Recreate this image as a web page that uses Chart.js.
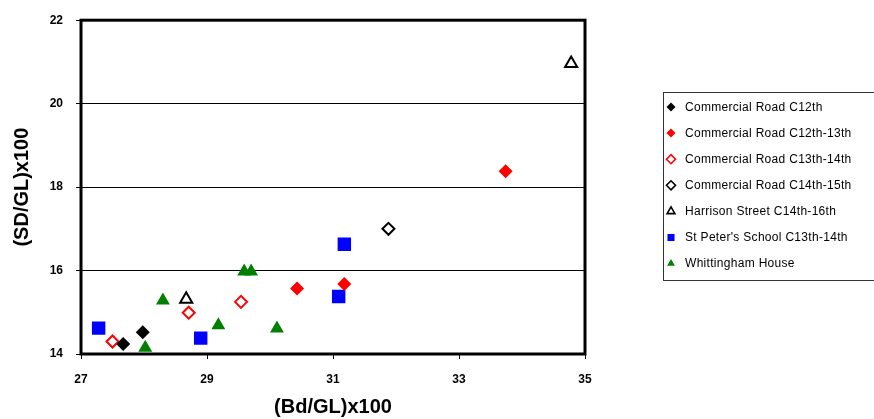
<!DOCTYPE html>
<html>
<head>
<meta charset="utf-8">
<script src="https://cdn.jsdelivr.net/npm/chart.js@4/dist/chart.umd.min.js"></script>
<style>
  html, body { margin: 0; padding: 0; background: #fff; }
</style>
</head>
<body>
<canvas id="scatter" width="874" height="419"></canvas>
<script>
// series labels
const seriesNames = [
    'Commercial Road C12th',
    'Commercial Road C12th-13th',
    'Commercial Road C13th-14th',
    'Commercial Road C14th-15th',
    'Harrison Street C14th-16th',
    "St Peter's School C13th-14th",
    'Whittingham House'
];

// values: x = (Bd/GL)x100, y = (SD/GL)x100
const crC12 = [{x: 27.67, y: 14.24}, {x: 27.98, y: 14.52}];
const crC12to13 = [{x: 30.43, y: 15.57}, {x: 31.18, y: 15.68}, {x: 33.74, y: 18.38}];
const crC13to14 = [{x: 27.50, y: 14.30}, {x: 28.71, y: 14.99}, {x: 29.54, y: 15.25}];
const crC14to15 = [{x: 31.88, y: 17.00}];
const harrison = [{x: 28.67, y: 15.31}, {x: 34.78, y: 20.96}];
const stPeters = [{x: 27.28, y: 14.62}, {x: 28.90, y: 14.38}, {x: 31.09, y: 15.38}, {x: 31.18, y: 16.63}];
const whittingham = [{x: 28.02, y: 14.15}, {x: 28.30, y: 15.28}, {x: 29.18, y: 14.69},
                     {x: 29.59, y: 15.98}, {x: 29.70, y: 15.98}, {x: 30.11, y: 14.61}];

const xTicks = [27, 29, 31, 33, 35];
const yTicks = [14, 16, 18, 20, 22];

function series(label, data, style, fill, line, radius, width) {
    return {
        label: label,
        data: data,
        pointStyle: style,
        backgroundColor: fill,
        borderColor: line,
        borderWidth: width,
        pointRadius: radius,
        pointHoverRadius: radius,
        legendRadius: style === 'rect' ? 5 : 4.5
    };
}

const datasets = [
    series(seriesNames[0], crC12, 'rectRot', '#000', '#000', 7, 0),
    series(seriesNames[1], crC12to13, 'rectRot', '#ff0000', '#ff0000', 7, 0),
    series(seriesNames[2], crC13to14, 'rectRot', '#fff', '#ff0000', 6, 2),
    series(seriesNames[3], crC14to15, 'rectRot', '#fff', '#000', 6, 2),
    series(seriesNames[4], harrison, 'triangle', '#fff', '#000', 7, 2),
    series(seriesNames[5], stPeters, 'rect', '#0000ff', '#0000ff', 9.5, 0),
    series(seriesNames[6], whittingham, 'triangle', '#008000', '#008000', 8, 0)
];

// thick frame round the plot + boxed legend on the right
const frameAndLegend = {
    id: 'frameAndLegend',
    afterDatasetsDraw(chart) {
        const ctx = chart.ctx;
        const a = chart.chartArea;
        ctx.save();
        ctx.strokeStyle = '#000';
        ctx.lineWidth = 3;
        ctx.strokeRect(a.left, a.top, a.right - a.left, a.bottom - a.top);

        ctx.lineWidth = 1;
        ctx.strokeStyle = '#333';
        ctx.strokeRect(663.5, 92.5, 240, 188);
        ctx.font = '12px Arial, "Liberation Sans", sans-serif';
        ctx.letterSpacing = '0.3px';
        ctx.textBaseline = 'middle';
        chart.data.datasets.forEach((ds, i) => {
            const y = 107 + i * 26.1;
            ctx.fillStyle = ds.backgroundColor;
            ctx.strokeStyle = ds.borderColor;
            ctx.lineWidth = ds.borderWidth ? 1.6 : 0;
            Chart.helpers.drawPoint(ctx, {
                pointStyle: ds.pointStyle,
                radius: ds.legendRadius,
                rotation: 0,
                borderWidth: ds.borderWidth ? 1.6 : 0
            }, 671, y);
            ctx.fillStyle = '#000';
            ctx.fillText(ds.label, 685, y + 0.5);
        });
        ctx.restore();
    }
};

const tickFont = {family: 'Arial, "Liberation Sans", sans-serif', size: 12, weight: 'bold'};
const titleFont = {family: 'Arial, "Liberation Sans", sans-serif', size: 20, weight: 'bold'};

new Chart(document.getElementById('scatter').getContext('2d'), {
    type: 'scatter',
    data: {datasets: datasets},
    options: {
        responsive: false,
        animation: false,
        events: [],
        layout: {padding: {left: 0, right: 289, top: 17, bottom: 0}},
        plugins: {legend: {display: false}, tooltip: {enabled: false}},
        scales: {
            x: {
                type: 'linear',
                min: 27,
                max: 35,
                afterBuildTicks: (scale) => { scale.ticks = xTicks.map(v => ({value: v})); },
                afterFit: (scale) => { scale.height = 65; },
                ticks: {color: '#000', font: tickFont, padding: 13, maxRotation: 0},
                grid: {drawOnChartArea: false, drawTicks: true, tickLength: 5, color: '#000', lineWidth: 1},
                border: {display: false},
                title: {display: true, text: '(Bd/GL)x100', color: '#000', font: titleFont, padding: {top: 10, bottom: 0}}
            },
            y: {
                type: 'linear',
                min: 14,
                max: 22,
                afterBuildTicks: (scale) => { scale.ticks = yTicks.map(v => ({value: v})); },
                afterFit: (scale) => { scale.width = 81; },
                ticks: {color: '#000', font: tickFont, padding: 13},
                grid: {drawTicks: true, tickLength: 5, color: '#000', lineWidth: 1},
                border: {display: false},
                title: {display: true, text: '(SD/GL)x100', color: '#000', font: titleFont, padding: {top: 10, bottom: 0}}
            }
        }
    },
    plugins: [frameAndLegend]
});
</script>
</body>
</html>
